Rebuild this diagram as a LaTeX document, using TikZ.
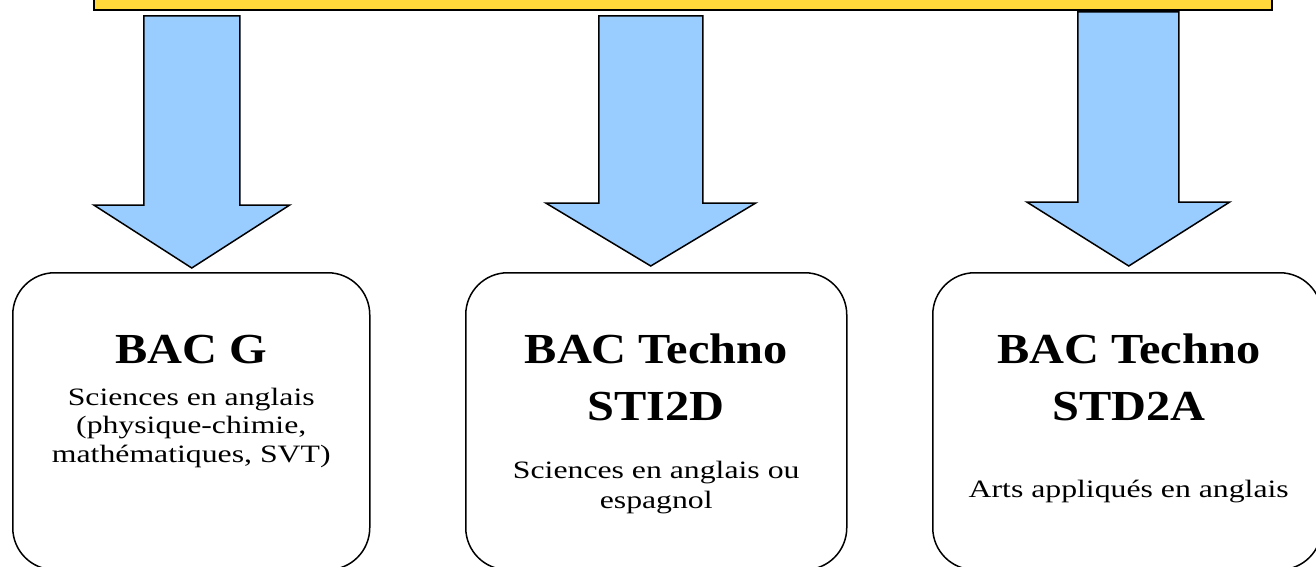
\documentclass[tikz,border=0pt]{standalone}
\usepackage{fontspec}
\setmainfont{Liberation Serif}
\newfontfamily\policecorps{Liberation Serif}[FakeStretch=1.27]
\newfontfamily\policetitre{Liberation Serif}[FakeStretch=1.13]
\usetikzlibrary{calc}
\definecolor{jaunebandeau}{HTML}{FFD83B}
\definecolor{bleufleche}{HTML}{99CCFF}
\tikzset{
  filiere/.style={draw, rectangle, rounded corners=21pt, line width=0.75pt, minimum height=148.5pt, anchor=north west},
  fleche/.style={draw, fill=bleufleche, line width=0.75pt, line join=miter},
  titre/.style={font=\policetitre\fontsize{21.4}{28.5}\selectfont\bfseries, anchor=base, inner sep=0pt},
  detail/.style={font=\policecorps\fontsize{12.5}{14.5}\selectfont, anchor=base, inner sep=0pt}
}

\begin{document}
\begin{tikzpicture}[x=0.5pt, y=-0.5pt]
    \useasboundingbox (0,0) rectangle (1316,567);
    \clip (0,0) rectangle (1316,567);

    \node (bandeau) [draw, rectangle, fill=jaunebandeau, line width=0.9pt, anchor=south west, minimum width=589pt, minimum height=40pt] at (93,11) {};

    \node (bacg) [filiere, minimum width=178.5pt] at (12,272) {};
    \node (sti2d) [filiere, minimum width=190.5pt] at (465,272) {};
    \node (std2a) [filiere, minimum width=194.5pt] at (932,272) {};

    % BAC G
    \node (titreg) [titre] at ($(bacg.north)+(0,91)$) {BAC G};
    \node (ligneg1) [detail] at ($(bacg.north)+(0,133)$) {Sciences en anglais};
    \node (ligneg2) [detail] at ($(bacg.north)+(0,161)$) {(physique-chimie,};
    \node (ligneg3) [detail] at ($(bacg.north)+(0,190)$) {mathématiques, SVT)};
    % BAC Techno STI2D
    \node (titresti1) [titre] at ($(sti2d.north)+(0,91)$) {BAC Techno};
    \node (titresti2) [titre] at ($(sti2d.north)+(0,148)$) {STI2D};
    \node (lignesti1) [detail] at ($(sti2d.north)+(0,206)$) {Sciences en anglais ou};
    \node (lignesti2) [detail] at ($(sti2d.north)+(0,236)$) {espagnol};
    % BAC Techno STD2A
    \node (titrestd1) [titre] at ($(std2a.north)+(1.5,91)$) {BAC Techno};
    \node (titrestd2) [titre] at ($(std2a.north)+(1.5,148)$) {STD2A};
    \node (lignestd1) [detail] at ($(std2a.north)+(1.5,225)$) {Arts appliqués en anglais};

   \draw[fleche] ($(bacg.north)+(0.5,-4)$) -- ++(-98,-63) -- ++(50,0) -- ++(0,-189) -- ++(96,0) -- ++(0,189) -- ++(50,0) -- cycle;
   \draw[fleche] ($(sti2d.north)+(-5.5,-6)$) -- ++(-105,-63) -- ++(53,0) -- ++(0,-187) -- ++(104,0) -- ++(0,187) -- ++(53,0) -- cycle;
   \draw[fleche] ($(std2a.north)+(1.5,-6)$) -- ++(-102,-64) -- ++(51,0) -- ++(0,-190) -- ++(101,0) -- ++(0,190) -- ++(51,0) -- cycle;
\end{tikzpicture}
\end{document}
